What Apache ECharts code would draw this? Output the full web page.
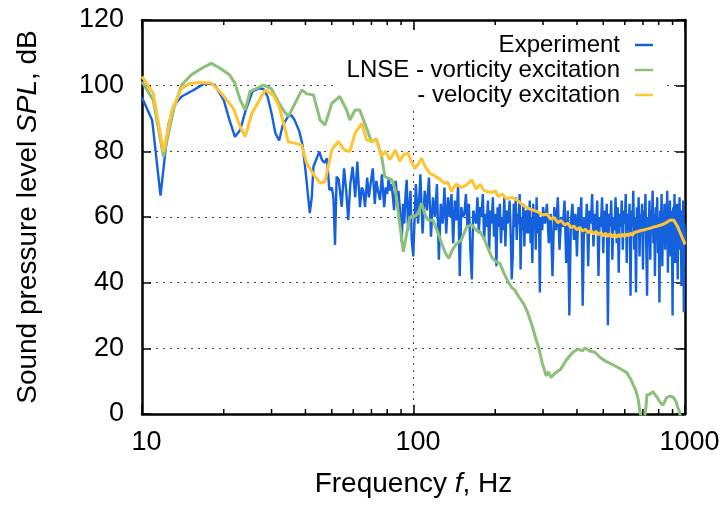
<!DOCTYPE html>
<html>
<head>
<meta charset="utf-8">
<script src="https://cdn.jsdelivr.net/npm/echarts@6/dist/echarts.min.js"></script>
<style>
  html, body { margin: 0; padding: 0; background: #fff; }
  #main { width: 723px; height: 505px; }
</style>
</head>
<body>
<div id="main"></div>
<script>
// 数据：频率 Hz / 声压级 dB
var yTicks = [0, 20, 40, 60, 80, 100, 120];
var minorTicks = [20, 30, 40, 50, 60, 70, 80, 90, 200, 300, 400, 500, 600, 700, 800, 900];

// Experiment 10-100 Hz, [f, SPL]
var expLow = [
  [10, 96.4], [10.9, 89.5], [11.7, 66.5], [12.5, 88], [13.1, 94], [14, 96.7], [15.5, 98.7],
  [17, 100.7], [18.5, 100.3], [20, 95.6], [21, 89.5], [22, 84.4], [23, 86.5], [24, 92],
  [25.5, 98.2], [27, 99.2], [28, 99], [29, 96.7], [30, 91.6], [31, 85.5], [32, 83.3],
  [33, 88], [34.5, 90.6], [35.5, 91], [36.5, 89.5], [38, 86], [39, 82], [40, 74.3],
  [41.5, 61.2], [42.2, 66], [42.8, 75.3], [44, 77.9], [45, 79.9], [46, 77.4], [47, 76.5],
  [48, 77.9], [49, 68.2], [50, 69], [50.7, 66], [51.4, 51.5], [52.1, 72.3], [53, 71.5],
  [54.4, 63.1], [55.5, 74.8], [56.5, 68], [57.5, 59.1], [58.5, 70], [59.7, 75.3], [61, 66],
  [62.1, 76.9], [63.5, 63], [64.5, 69], [65.3, 68], [66.3, 63.1], [67.5, 72], [68.5, 66],
  [69.5, 70], [70.8, 74.8], [72, 64], [73, 71], [74, 68], [75.3, 65.2], [76.5, 73], [78, 63],
  [79, 69], [80, 67], [81, 72], [82, 68], [83, 70], [84, 66], [84.8, 62.1], [86, 71],
  [87, 66], [88, 68], [89, 63], [90.5, 52.5], [91.5, 64], [92.5, 58], [93.5, 67], [94.4, 71.3],
  [95.5, 56], [96.5, 63], [97.5, 68], [98.5, 53], [99.8, 48]
];
// Experiment 100-300 Hz, every 2 Hz
var expMidStart = 100, expMidStep = 2;
var expMid = [
  48, 70, 58, 73, 55, 68, 62, 72, 54, 66, 60, 70, 47, 64, 58, 69, 55, 66, 60, 67,
  52, 65, 59, 70, 42, 63, 60, 61, 67, 57, 64, 50, 41, 62, 62, 58, 66, 55, 63, 60,
  67, 53, 61, 57, 65, 50, 62, 58, 66, 54, 61, 45, 63, 57, 64, 52, 60, 56, 66, 51,
  62, 58, 60, 65, 55, 41, 48, 64, 57, 66, 53, 61, 58, 67, 44, 60, 56, 64, 51, 62,
  57, 55, 63, 55, 65, 52, 60, 46, 64, 57, 62, 50, 66, 55, 61, 58, 37, 60, 60, 56,
  63
];
// Experiment 305-1000 Hz, every 5 Hz
var expHighStart = 305, expHighStep = 5;
var expHigh = [
  58, 64, 52, 61, 42, 63, 56, 66, 50, 60,
  57, 65, 46, 62, 30, 59, 64, 53, 61, 48,
  63, 57, 66, 33, 60, 55, 64, 45, 62, 58,
  67, 51, 61, 56, 65, 42, 60, 57, 66, 49,
  62, 55, 64, 27, 61, 57, 65, 47, 60, 56,
  66, 52, 63, 43, 61, 57, 65, 50, 62, 58,
  67, 46, 61, 56, 64, 36, 62, 57, 68, 50,
  60, 37, 63, 55, 66, 48, 61, 57, 64, 44,
  62, 58, 67, 51, 36, 60, 56, 65, 47, 62,
  57, 68, 52, 61, 42, 63, 56, 66, 49, 60,
  34, 62, 57, 67, 45, 61, 55, 64, 50, 62,
  58, 68, 43, 61, 56, 65, 48, 62, 57, 30,
  63, 55, 67, 46, 61, 57, 64, 41, 60, 56,
  66, 50, 62, 39, 60, 57, 65, 31, 58, 52
];

// LNSE - vorticity excitation, [f, SPL]
var vorticity = [
  [10, 101.2], [11, 95.6], [12, 78.4], [13.1, 93.1], [14, 100.2], [15.2, 103.3], [16.6, 105.3],
  [18, 106.8], [19.4, 105.3], [21, 103.3], [22, 100.7], [23, 95.6], [24, 92.6], [25, 98.2],
  [28, 100.2], [30, 99], [32, 94.6], [33.5, 92], [34.6, 90.6], [36.6, 94.6], [38.8, 98.7],
  [40.5, 97.5], [42.8, 97.2], [45.3, 89.5], [47.2, 88], [50, 94.6], [53.5, 96.7], [56.7, 92.6],
  [58.3, 89.5], [60.9, 92.6], [63.4, 92.6], [67.2, 87], [70, 82.9], [73, 83.8], [76.3, 78.4],
  [78.4, 72.3], [83.3, 71.3], [85.7, 68.2], [89.3, 57], [91.7, 49.4], [94.4, 55], [97, 60.1],
  [100, 60], [104, 61], [107, 64.2], [110, 61], [113, 59.1], [118, 59], [122, 56], [127, 52],
  [131, 49], [135, 47.4], [139, 50], [143, 51.5], [150, 53], [157, 57], [164, 57.6], [170, 56],
  [176, 55.5], [183, 53], [188, 50.5], [194, 47.9], [200, 46.5], [208, 45.9], [215, 43],
  [223, 40.3], [230, 38.5], [236, 37.8], [245, 35.5], [254, 33.7], [263, 31], [273, 27.1],
  [282, 23], [290, 19.8], [298, 15.5], [308, 11.6], [314, 12.8], [321, 11.1], [333, 12.5],
  [348, 13.6], [366, 16.5], [386, 18.8], [405, 19.8], [418, 19.2], [428, 20.1], [446, 19.2],
  [466, 18.8], [487, 17.2], [507, 16.2], [528, 15.5], [551, 14.7], [580, 13.7], [610, 12.6],
  [632, 10.5], [645, 8.8], [657, 7.5], [672, 4.5], [683, 0.5], [695, -2], [710, -1], [718, 2],
  [724, 5.8], [740, 6], [762, 6.8], [790, 5], [810, 3.5], [830, 2.7], [854, 4.9], [880, 5.5],
  [904, 5.1], [925, 4], [940, 2], [950, 1.2], [962, -1]
];

// LNSE - velocity excitation, [f, SPL] up to 300 Hz
var velocityLow = [
  [10, 102.8], [11, 97.7], [12, 79.9], [12.9, 92.6], [14, 99.2], [15, 100.7], [16.3, 101],
  [18, 100.8], [19.6, 97.7], [21.7, 93.1], [23, 87.5], [24, 84.5], [25.4, 91.6], [28.4, 98.7],
  [30.4, 97.2], [32, 93.6], [33, 89.5], [34.6, 82.9], [36.5, 82.5], [38.7, 81.9], [40.4, 76.4],
  [42.8, 73], [45.3, 70.3], [47.2, 70.8], [50, 80.4], [52.8, 83], [55.5, 80.5], [58.3, 79.9],
  [60.9, 85.5], [64.5, 88.5], [67.2, 83.5], [70, 83], [73, 83.8], [76, 78.5], [79, 80],
  [81.8, 77.4], [85.7, 80.4], [89, 77], [92, 79], [95.5, 79.4], [98, 77], [101, 74.8],
  [104, 76], [107, 77.9], [111, 75], [115, 73.3], [120, 72.5], [125, 71.5], [130, 70.3],
  [134, 70.5], [138, 67.7], [143, 70], [150, 69], [157, 69.8], [164, 71.3], [170, 68.5],
  [176, 70], [182, 68], [188, 67.7], [195, 67.5], [200, 68], [205, 66.2], [212, 67],
  [220, 65.5], [230, 66], [240, 65.2], [250, 64], [258, 63.1], [267, 62.5], [276, 62.1],
  [288, 61.5]
];
// LNSE - velocity excitation 300-1000 Hz, every 10 Hz
var velHighStart = 300, velHighStep = 10;
var velocityHigh = [
  60.6, 60.9, 59.4, 59.8, 58.3, 58.9, 57.6, 58.1, 56.8, 57.2,
  56.1, 56.8, 55.7, 56.3, 55.2, 55.9, 54.8, 55.6, 54.6, 55.3,
  54.2, 55.1, 54.0, 54.9, 53.9, 54.8, 53.8, 54.7, 53.9, 54.8,
  54.0, 54.9, 54.2, 55.1, 54.4, 55.3, 54.7, 55.6, 55.0, 55.9,
  55.3, 56.1, 55.5, 56.4, 55.8, 56.7, 56.1, 57.0, 56.4, 57.2,
  56.7, 57.5, 57.0, 57.8, 57.4, 58.2, 57.9, 58.8, 58.4, 59.1,
  58.6, 59.0, 58.3, 57.9, 57.0, 56.4, 55.2, 54.3, 53.4, 52.6, 51.6
];

function stepped(start, step, vals) {
  return vals.map(function (v, i) { return [start + i * step, v]; });
}
var experiment = expLow
  .concat(stepped(expMidStart, expMidStep, expMid))
  .concat(stepped(expHighStart, expHighStep, expHigh));
var velocity = velocityLow.concat(stepped(velHighStart, velHighStep, velocityHigh));

var FONT = '"Liberation Sans", Arial, Helvetica, sans-serif';
var gridLine = { show: true, lineStyle: { color: '#444', type: [2, 5], width: 1 } };
var frame = { show: true, onZero: false, lineStyle: { color: '#000', width: 2.5 } };
var majorTick = { show: true, inside: true, length: 9, lineStyle: { color: '#000', width: 1.5 } };

var chart = echarts.init(document.getElementById('main'));
chart.setOption({
  animation: false,
  backgroundColor: '#fff',
  textStyle: { fontFamily: FONT },
  grid: { left: 142, right: 38, top: 20, bottom: 91 },
  graphic: [{
    // 图例背后的空白区（遮住网格线）
    type: 'rect', z: 1, silent: true,
    shape: { x: 338, y: 34, width: 328, height: 73 },
    style: { fill: '#fff' }
  }],
  legend: [
    { data: ['Experiment'], top: 33 },
    { data: ['LNSE - vorticity excitation'], top: 58 },
    { data: ['- velocity excitation'], top: 83 }
  ].map(function (l) {
    return Object.assign({
      right: 70, padding: 0, align: 'right', icon: 'rect',
      itemWidth: 18, itemHeight: 2.5, selectedMode: false,
      textStyle: { fontSize: 24, color: '#000', fontFamily: FONT, padding: [0, 10, 0, 0] }
    }, l);
  }),
  xAxis: [{
    type: 'log', logBase: 10, min: 10, max: 1000, position: 'bottom',
    axisLine: frame, axisTick: majorTick, splitLine: gridLine,
    axisLabel: { fontSize: 27, color: '#000', margin: 15, fontFamily: FONT,
      padding: [0, 0, 0, 9], formatter: function (v) { return String(v); } },
    name: 'Frequency {i|f}, Hz', nameLocation: 'middle', nameGap: 56,
    nameTextStyle: { fontSize: 28, color: '#000', fontFamily: FONT,
      rich: { i: { fontSize: 28, fontStyle: 'italic', color: '#000', fontFamily: FONT } } }
  }, {
    type: 'log', logBase: 10, min: 10, max: 1000, position: 'top',
    axisLine: frame, axisTick: Object.assign({}, majorTick, { length: 10 }),
    axisLabel: { show: false }, splitLine: { show: false }
  }],
  yAxis: [{
    type: 'value', min: 0, max: 120, interval: 20, position: 'left',
    axisLine: frame, axisTick: majorTick, splitLine: gridLine,
    axisLabel: { fontSize: 27, color: '#000', margin: 18, fontFamily: FONT,
      formatter: function (v) { return yTicks.indexOf(v) >= 0 ? String(v) : ''; } },
    name: 'Sound pressure level {i|SPL}, dB', nameLocation: 'middle', nameGap: 100, nameRotate: 90,
    nameTextStyle: { fontSize: 28, color: '#000', fontFamily: FONT,
      rich: { i: { fontSize: 28, fontStyle: 'italic', color: '#000', fontFamily: FONT } } }
  }, {
    type: 'value', min: 0, max: 120, interval: 20, position: 'right',
    axisLine: frame, axisTick: majorTick,
    axisLabel: { show: false }, splitLine: { show: false }
  }],
  series: [{
    name: 'Experiment', type: 'line', data: experiment,
    color: '#1560dd', showSymbol: false, symbol: 'none',
    lineStyle: { width: 2.4, color: '#1560dd' }
  }, {
    name: 'LNSE - vorticity excitation', type: 'line', data: vorticity,
    color: '#8cbf78', showSymbol: false, symbol: 'none',
    lineStyle: { width: 3, color: '#8cbf78' }
  }, {
    name: '- velocity excitation', type: 'line', data: velocity,
    color: '#ffc433', showSymbol: false, symbol: 'none',
    lineStyle: { width: 3, color: '#ffc433' }
  }, {
    // 对数轴的次刻度（上下两边）
    type: 'custom', silent: true, z: 3,
    data: minorTicks.map(function (f) { return [f, 0]; }),
    renderItem: function (params, api) {
      var f = api.value(0);
      var b = api.coord([f, 0]);
      var t = api.coord([f, 120]);
      var st = { stroke: '#000', lineWidth: 1.5 };
      return { type: 'group', children: [
        { type: 'line', shape: { x1: b[0], y1: b[1], x2: b[0], y2: b[1] - 5 }, style: st },
        { type: 'line', shape: { x1: t[0], y1: t[1], x2: t[0], y2: t[1] + 5 }, style: st }
      ] };
    }
  }]
});
</script>
</body>
</html>
